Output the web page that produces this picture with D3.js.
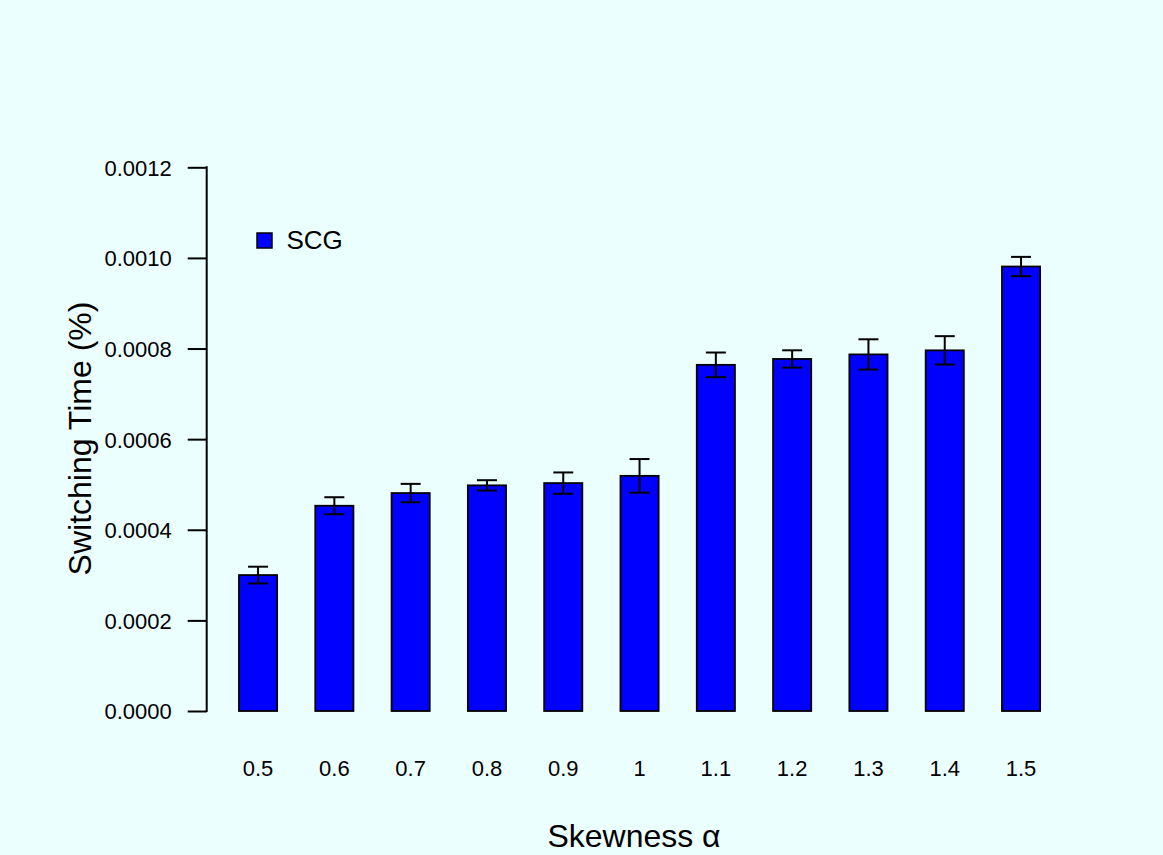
<!DOCTYPE html>
<html>
<head>
<meta charset="utf-8">
<script src="https://cdn.jsdelivr.net/npm/d3@7"></script>
<style>
  html, body { margin: 0; padding: 0; background: #ECFFFF; }
  svg { display: block; }
  text { font-family: "Liberation Sans", Arial, Helvetica, sans-serif; fill: #000; }
</style>
</head>
<body>
<script>
// Mean switching time per skewness level, with error half-widths
const categories = ["0.5", "0.6", "0.7", "0.8", "0.9", "1", "1.1", "1.2", "1.3", "1.4", "1.5"];
const values = [0.000300, 0.000453, 0.000481, 0.000498, 0.000503, 0.000519, 0.000764, 0.000777, 0.000787, 0.000796, 0.000981];
const errors = [0.0000185, 0.0000188, 0.0000203, 0.0000114, 0.0000235, 0.0000371, 0.0000272, 0.0000191, 0.0000334, 0.0000313, 0.0000213];
const yTicks = [0, 0.0002, 0.0004, 0.0006, 0.0008, 0.0010, 0.0012];
const seriesName = "SCG";

const W = 1163, H = 855;
const svg = d3.select("body").append("svg")
  .attr("width", W).attr("height", H);

svg.append("rect").attr("width", W).attr("height", H).attr("fill", "#ECFFFF");

const x = d3.scaleBand()
  .domain(categories)
  .range([219.9, 219.9 + 11 * 76.3])
  .paddingInner(0.5)
  .paddingOuter(0.25);

const y = d3.scaleLinear()
  .domain([0, 0.0012])
  .range([711, 167.3]);

// Y axis
const axisX = 206.7;
const yAxis = d3.axisLeft(y)
  .tickValues(yTicks)
  .tickFormat(d3.format(".4f"))
  .tickSize(19)
  .tickPadding(16);
const gy = svg.append("g").attr("transform", `translate(${axisX},0)`).call(yAxis);
gy.select(".domain").remove();
gy.selectAll(".tick line").attr("stroke", "#000").attr("stroke-width", 2);
gy.selectAll(".tick text")
  .attr("font-size", 22)
  .attr("font-family", "\"Liberation Sans\", Arial, Helvetica, sans-serif")
  .attr("fill", "#000")
  .attr("dy", "0.36em");
gy.append("line")
  .attr("x1", 0).attr("x2", 0)
  .attr("y1", y(0.0012)).attr("y2", y(0))
  .attr("stroke", "#000").attr("stroke-width", 2)
  .attr("stroke-linecap", "square");

// Bars
svg.append("g").selectAll("rect")
  .data(values)
  .join("rect")
  .attr("x", (d, i) => x(categories[i]))
  .attr("width", x.bandwidth())
  .attr("y", d => y(d))
  .attr("height", d => y(0) - y(d))
  .attr("fill", "#0000FF")
  .attr("stroke", "#000")
  .attr("stroke-width", 1.8);

// Error bars
const capHalf = 10;
const eb = svg.append("g").attr("stroke", "#000").attr("stroke-width", 2);
values.forEach((v, i) => {
  const cx = x(categories[i]) + x.bandwidth() / 2;
  const top = y(v + errors[i]), bot = y(v - errors[i]);
  eb.append("line").attr("x1", cx).attr("x2", cx).attr("y1", top).attr("y2", bot);
  eb.append("line").attr("x1", cx - capHalf).attr("x2", cx + capHalf).attr("y1", top).attr("y2", top);
  eb.append("line").attr("x1", cx - capHalf).attr("x2", cx + capHalf).attr("y1", bot).attr("y2", bot);
});

// Category labels under the bars
svg.append("g").selectAll("text")
  .data(categories)
  .join("text")
  .attr("x", d => x(d) + x.bandwidth() / 2)
  .attr("y", 776)
  .attr("text-anchor", "middle")
  .attr("font-size", 22)
  .text(d => d);

// Axis titles
svg.append("text")
  .attr("x", 634).attr("y", 847)
  .attr("text-anchor", "middle")
  .attr("font-size", 32)
  .text("Skewness \u03B1");

svg.append("text")
  .attr("transform", "translate(91,438.5) rotate(-90)")
  .attr("text-anchor", "middle")
  .attr("font-size", 32)
  .text("Switching Time (%)");

// Legend
svg.append("rect")
  .attr("x", 257).attr("y", 233)
  .attr("width", 15).attr("height", 15)
  .attr("fill", "#0000FF").attr("stroke", "#000").attr("stroke-width", 1.5);
svg.append("text")
  .attr("x", 286.5).attr("y", 249.3)
  .attr("font-size", 26)
  .text(seriesName);
</script>
</body>
</html>
